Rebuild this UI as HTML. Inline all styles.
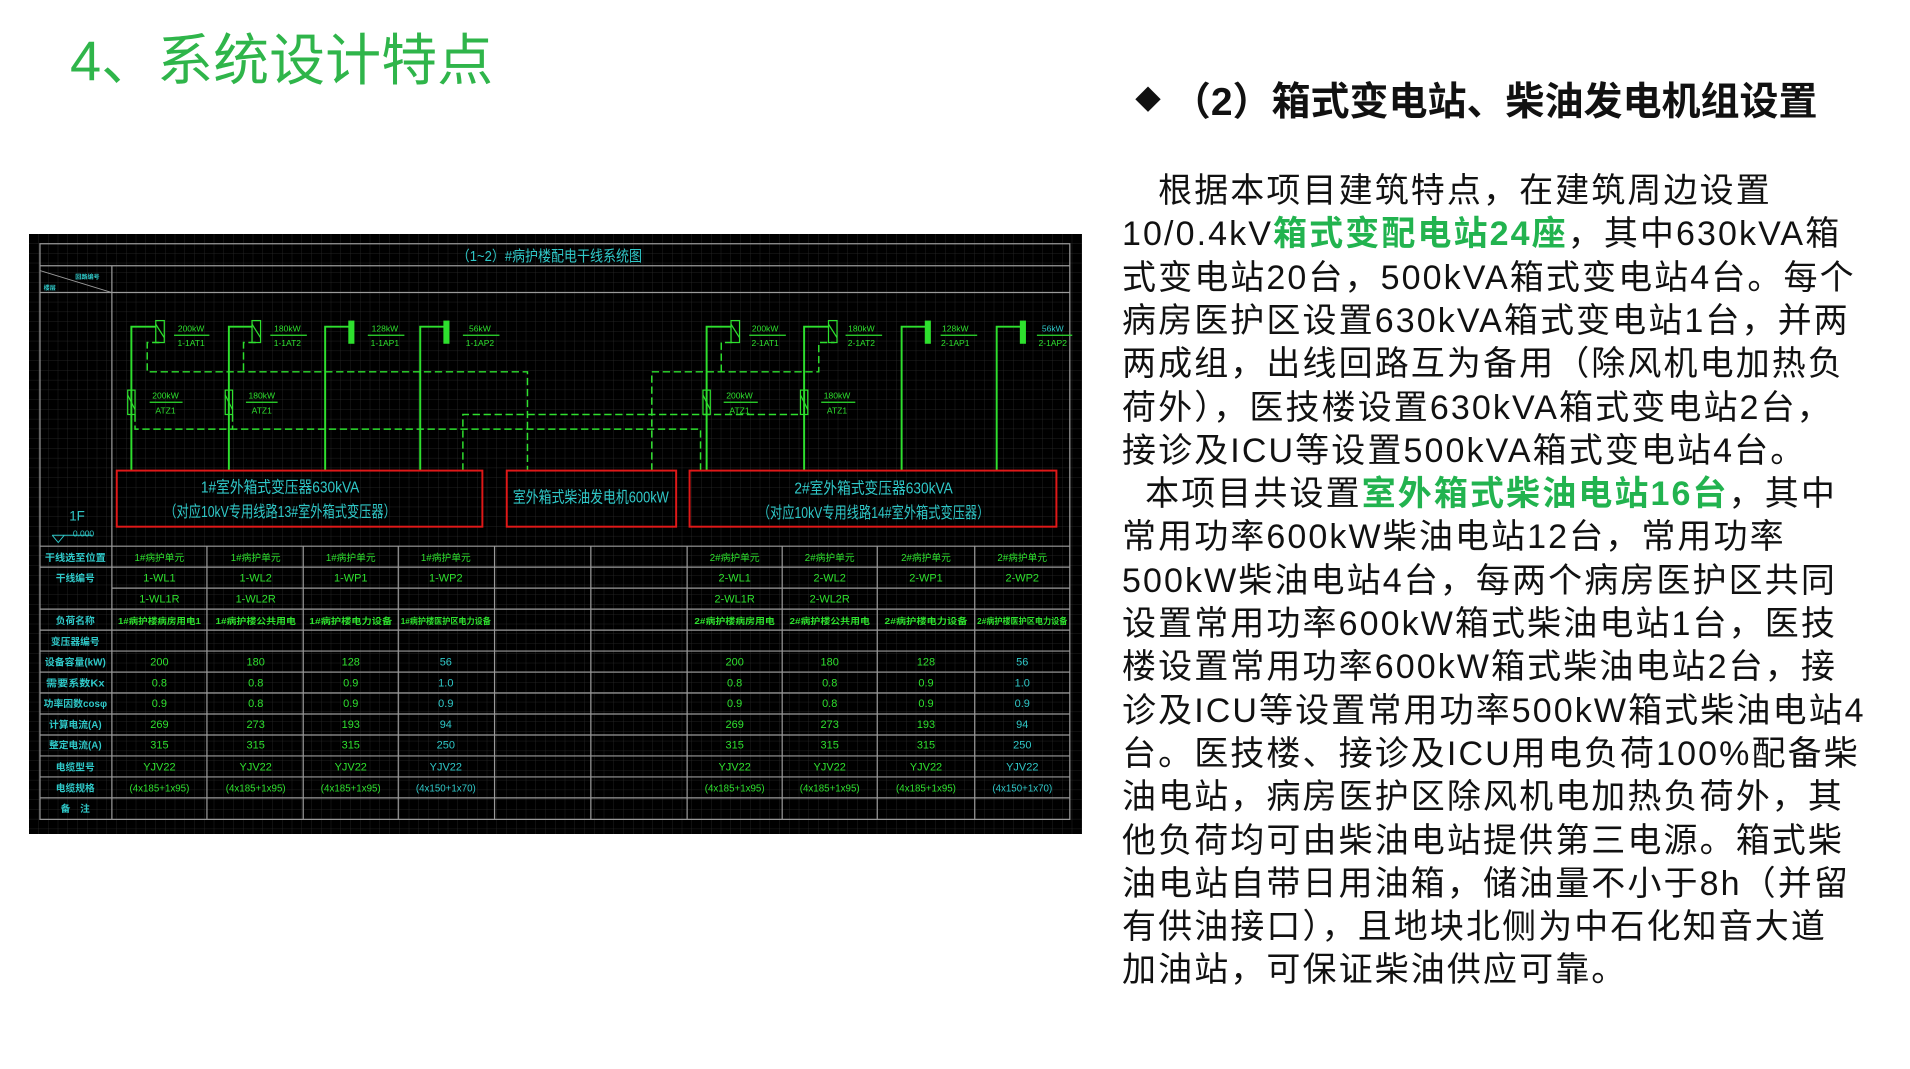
<!DOCTYPE html>
<html><head><meta charset="utf-8"><style>
body{margin:0;width:1910px;height:1069px;background:#fff;position:relative;overflow:hidden;font-family:"Liberation Sans","Noto Sans CJK SC",sans-serif}
.t{position:absolute;left:70px;top:16px;font-size:56px;color:#2fb54a;white-space:nowrap}
.h{position:absolute;left:1135px;top:71px;font-size:39px;font-weight:bold;color:#111;white-space:nowrap}
.p{position:absolute;left:1122px;font-size:34px;color:#111;white-space:nowrap;letter-spacing:2.1px;line-height:44px}
.g{color:#22b34f;font-weight:bold}
svg{position:absolute;left:29px;top:234px}
</style></head><body>
<div class="t">4、系统设计特点</div>
<div class="h"><span style="font-size:26px;vertical-align:6px">◆</span> （2）箱式变电站、柴油发电机组设置</div>
<div class="p" style="top:169px">　根据本项目建筑特点，在建筑周边设置</div>
<div class="p" style="top:212px">10/0.4kV<span class="g">箱式变配电站24座</span>，其中630kVA箱</div>
<div class="p" style="top:256px">式变电站20台，500kVA箱式变电站4台。每个</div>
<div class="p" style="top:299px">病房医护区设置630kVA箱式变电站1台，并两</div>
<div class="p" style="top:342px">两成组，出线回路互为备用（除风机电加热负</div>
<div class="p" style="top:386px">荷外），医技楼设置630kVA箱式变电站2台，</div>
<div class="p" style="top:429px">接诊及ICU等设置500kVA箱式变电站4台。</div>
<div class="p" style="top:472px">&nbsp;&nbsp;本项目共设置<span class="g">室外箱式柴油电站16台</span>，其中</div>
<div class="p" style="top:515px">常用功率600kW柴油电站12台，常用功率</div>
<div class="p" style="top:559px">500kW柴油电站4台，每两个病房医护区共同</div>
<div class="p" style="top:602px">设置常用功率600kW箱式柴油电站1台，医技</div>
<div class="p" style="top:645px">楼设置常用功率600kW箱式柴油电站2台，接</div>
<div class="p" style="top:689px">诊及ICU等设置常用功率500kW箱式柴油电站4</div>
<div class="p" style="top:732px">台。医技楼、接诊及ICU用电负荷100%配备柴</div>
<div class="p" style="top:775px">油电站，病房医护区除风机电加热负荷外，其</div>
<div class="p" style="top:819px">他负荷均可由柴油电站提供第三电源。箱式柴</div>
<div class="p" style="top:862px">油电站自带日用油箱，储油量不小于8h（并留</div>
<div class="p" style="top:905px">有供油接口），且地块北侧为中石化知音大道</div>
<div class="p" style="top:948px">加油站，可保证柴油供应可靠。</div>

<svg width="1053" height="600" viewBox="24 192 864 492" preserveAspectRatio="none" font-family="Liberation Sans,Noto Sans CJK SC,sans-serif">
<defs><pattern id="gr" width="8" height="8" patternUnits="userSpaceOnUse"><path d="M8 0V8H0" fill="none" stroke="#2b2b2b" stroke-width="0.6"/></pattern></defs>
<rect x="24" y="192" width="864" height="492" fill="#000"/>
<rect x="24" y="192" width="864" height="492" fill="url(#gr)"/>
<g stroke="#9a9a9a" stroke-width="1" fill="none">
<rect x="33" y="200" width="845" height="472"/>
<line x1="33" y1="218" x2="878" y2="218"/><line x1="33" y1="240" x2="878" y2="240"/>
<line x1="92" y1="218" x2="92" y2="672"/>
<line x1="33" y1="222" x2="92" y2="240" stroke-width="0.7"/>
<line x1="33" y1="448" x2="878" y2="448"/><line x1="33" y1="465.2" x2="878" y2="465.2"/>
<line x1="92" y1="482.4" x2="878" y2="482.4"/><line x1="33" y1="499.6" x2="878" y2="499.6"/>
<line x1="33" y1="516.8" x2="878" y2="516.8"/><line x1="33" y1="534" x2="878" y2="534"/>
<line x1="33" y1="551.2" x2="878" y2="551.2"/><line x1="33" y1="568.4" x2="878" y2="568.4"/>
<line x1="33" y1="585.6" x2="878" y2="585.6"/><line x1="33" y1="602.8" x2="878" y2="602.8"/>
<line x1="33" y1="620" x2="878" y2="620"/><line x1="33" y1="637.2" x2="878" y2="637.2"/>
<line x1="33" y1="654.4" x2="878" y2="654.4"/>
<line x1="170" y1="448" x2="170" y2="672"/><line x1="249" y1="448" x2="249" y2="672"/>
<line x1="327" y1="448" x2="327" y2="672"/><line x1="406" y1="448" x2="406" y2="672"/>
<line x1="485" y1="448" x2="485" y2="672"/><line x1="564" y1="448" x2="564" y2="672"/>
<line x1="642" y1="448" x2="642" y2="672"/><line x1="720" y1="448" x2="720" y2="672"/>
<line x1="800" y1="448" x2="800" y2="672"/>
</g>
<text x="451" y="214" fill="#2fc8c8" font-size="12" text-anchor="middle" textLength="152" lengthAdjust="spacingAndGlyphs">（1~2）#病护楼配电干线系统图</text>
<text x="62" y="229" fill="#2fc8c8" font-size="5" font-weight="bold">回路编号</text>
<text x="36" y="238" fill="#2fc8c8" font-size="5" font-weight="bold">楼层</text>
<text x="57" y="427" fill="#2fc8c8" font-size="11">1F</text>
<text x="60" y="440" fill="#2fc8c8" font-size="7">0.000</text>
<path d="M43 439H76M43 439L48 445L53 439" stroke="#2fc8c8" fill="none" stroke-width="0.8"/>
<g stroke="#2ee02e" stroke-width="1.6" fill="none">
<path d="M108 386V268H128"/><path d="M188 386V268H207"/><path d="M267 386V268H287"/><path d="M345 386V268H365"/>
<path d="M580 386V268H600"/><path d="M660 386V268H680"/><path d="M740 386V268H760"/><path d="M818 386V268H838"/>
</g>
<g stroke="#2ee02e" stroke-width="1" fill="none">
<rect x="128" y="263" width="7" height="18"/><path d="M128 266L135 277"/>
<rect x="207" y="263" width="7" height="18"/><path d="M207 266L214 277"/>
<rect x="600" y="263" width="7" height="18"/><path d="M600 266L607 277"/>
<rect x="680" y="263" width="7" height="18"/><path d="M680 266L687 277"/>
<rect x="105" y="320" width="6" height="20"/><path d="M105 324L111 336"/>
<rect x="185" y="320" width="6" height="20"/><path d="M185 324L191 336"/>
<rect x="577" y="320" width="6" height="20"/><path d="M577 324L583 336"/>
<rect x="657" y="320" width="6" height="20"/><path d="M657 324L663 336"/>
<path d="M143 275H172M222 275H252M302 275H332M380 275H410M615 275H645M694 275H724M772 275H802M851 275H880"/>
<path d="M123 330H150M202 330H228M594 330H622M674 330H702"/>
</g>
<g fill="#2ee02e"><rect x="286" y="263" width="5" height="19"/><rect x="364" y="263" width="5" height="19"/><rect x="759" y="263" width="5" height="19"/><rect x="837" y="263" width="5" height="19"/></g>
<g stroke="#2ee02e" stroke-width="1.2" fill="none" stroke-dasharray="6,3">
<path d="M131 281H121V305H433V386"/><path d="M210 281H200V305"/>
<path d="M111 340V352H575V386"/><path d="M191 340V352"/>
<path d="M380 386V340H655V340"/>
<path d="M535 386V305H672V281H685"/><path d="M592 305V281H603"/>
</g>
<g fill="#2ee02e" font-size="7" text-anchor="middle">
<text x="157" y="272">200kW</text><text x="157" y="284">1-1AT1</text>
<text x="236" y="272">180kW</text><text x="236" y="284">1-1AT2</text>
<text x="316" y="272">128kW</text><text x="316" y="284">1-1AP1</text>
<text x="394" y="272">56kW</text><text x="394" y="284">1-1AP2</text>
<text x="136" y="327">200kW</text><text x="136" y="339">ATZ1</text>
<text x="215" y="327">180kW</text><text x="215" y="339">ATZ1</text>
<text x="628" y="272">200kW</text><text x="628" y="284">2-1AT1</text>
<text x="707" y="272">180kW</text><text x="707" y="284">2-1AT2</text>
<text x="784" y="272">128kW</text><text x="784" y="284">2-1AP1</text>
<text x="864" y="272" fill="#2fc8c8">56kW</text><text x="864" y="284">2-1AP2</text>
<text x="607" y="327">200kW</text><text x="607" y="339">ATZ1</text>
<text x="687" y="327">180kW</text><text x="687" y="339">ATZ1</text>
</g>
<g stroke="#e01818" stroke-width="1.6" fill="none">
<rect x="96" y="386" width="300" height="46"/><rect x="416" y="386" width="139" height="46"/><rect x="566" y="386" width="301" height="46"/>
</g>
<g fill="#2fc8c8" font-size="13" text-anchor="middle">
<text x="230" y="404" textLength="130" lengthAdjust="spacingAndGlyphs">1#室外箱式变压器630kVA</text>
<text x="230" y="424" textLength="190" lengthAdjust="spacingAndGlyphs">（对应10kV专用线路13#室外箱式变压器）</text>
<text x="485" y="412" textLength="128" lengthAdjust="spacingAndGlyphs">室外箱式柴油发电机600kW</text>
<text x="717" y="405" textLength="130" lengthAdjust="spacingAndGlyphs">2#室外箱式变压器630kVA</text>
<text x="717" y="425" textLength="190" lengthAdjust="spacingAndGlyphs">（对应10kV专用线路14#室外箱式变压器）</text>
</g>
<g fill="#2fc8c8" font-size="8" text-anchor="middle" font-weight="bold">
<text x="62" y="460" textLength="50" lengthAdjust="spacingAndGlyphs">干线选至位置</text>
<text x="62" y="477">干线编号</text>
<text x="62" y="512">负荷名称</text>
<text x="62" y="529">变压器编号</text>
<text x="62" y="546" textLength="50" lengthAdjust="spacingAndGlyphs">设备容量(kW)</text>
<text x="62" y="563" textLength="48" lengthAdjust="spacingAndGlyphs">需要系数Kx</text>
<text x="62" y="580" textLength="52" lengthAdjust="spacingAndGlyphs">功率因数cosφ</text>
<text x="62" y="597">计算电流(A)</text>
<text x="62" y="614">整定电流(A)</text>
<text x="62" y="632">电缆型号</text>
<text x="62" y="649">电缆规格</text>
<text x="62" y="666">备　注</text>
</g>
<g fill="#2ee02e" font-size="9" text-anchor="middle">
<text x="131" y="460" font-size="8">1#病护单元</text><text x="210" y="460" font-size="8">1#病护单元</text><text x="288" y="460" font-size="8">1#病护单元</text><text x="366" y="460" font-size="8">1#病护单元</text>
<text x="603" y="460" font-size="8">2#病护单元</text><text x="681" y="460" font-size="8">2#病护单元</text><text x="760" y="460" font-size="8">2#病护单元</text><text x="839" y="460" font-size="8">2#病护单元</text>
<text x="131" y="477">1-WL1</text><text x="210" y="477">1-WL2</text><text x="288" y="477">1-WP1</text><text x="366" y="477">1-WP2</text>
<text x="603" y="477">2-WL1</text><text x="681" y="477">2-WL2</text><text x="760" y="477">2-WP1</text><text x="839" y="477">2-WP2</text>
<text x="131" y="494">1-WL1R</text><text x="210" y="494">1-WL2R</text><text x="603" y="494">2-WL1R</text><text x="681" y="494">2-WL2R</text>
<g font-size="7" font-weight="bold">
<text x="131" y="512" textLength="68" lengthAdjust="spacingAndGlyphs">1#病护楼病房用电1</text><text x="210" y="512" textLength="66" lengthAdjust="spacingAndGlyphs">1#病护楼公共用电</text><text x="288" y="512" textLength="68" lengthAdjust="spacingAndGlyphs">1#病护楼电力设备</text><text x="366" y="512" textLength="74" lengthAdjust="spacingAndGlyphs">1#病护楼医护区电力设备</text>
<text x="603" y="512" textLength="66" lengthAdjust="spacingAndGlyphs">2#病护楼病房用电</text><text x="681" y="512" textLength="66" lengthAdjust="spacingAndGlyphs">2#病护楼公共用电</text><text x="760" y="512" textLength="68" lengthAdjust="spacingAndGlyphs">2#病护楼电力设备</text><text x="839" y="512" textLength="74" lengthAdjust="spacingAndGlyphs">2#病护楼医护区电力设备</text>
</g>
<text x="131" y="546">200</text><text x="210" y="546">180</text><text x="288" y="546">128</text><text x="366" y="546" fill="#2fc8c8">56</text>
<text x="603" y="546">200</text><text x="681" y="546">180</text><text x="760" y="546">128</text><text x="839" y="546" fill="#2fc8c8">56</text>
<text x="131" y="563">0.8</text><text x="210" y="563">0.8</text><text x="288" y="563">0.9</text><text x="366" y="563" fill="#2fc8c8">1.0</text>
<text x="603" y="563">0.8</text><text x="681" y="563">0.8</text><text x="760" y="563">0.9</text><text x="839" y="563" fill="#2fc8c8">1.0</text>
<text x="131" y="580">0.9</text><text x="210" y="580">0.8</text><text x="288" y="580">0.9</text><text x="366" y="580" fill="#2fc8c8">0.9</text>
<text x="603" y="580">0.9</text><text x="681" y="580">0.8</text><text x="760" y="580">0.9</text><text x="839" y="580" fill="#2fc8c8">0.9</text>
<text x="131" y="597">269</text><text x="210" y="597">273</text><text x="288" y="597">193</text><text x="366" y="597" fill="#2fc8c8">94</text>
<text x="603" y="597">269</text><text x="681" y="597">273</text><text x="760" y="597">193</text><text x="839" y="597" fill="#2fc8c8">94</text>
<text x="131" y="614">315</text><text x="210" y="614">315</text><text x="288" y="614">315</text><text x="366" y="614" fill="#2fc8c8">250</text>
<text x="603" y="614">315</text><text x="681" y="614">315</text><text x="760" y="614">315</text><text x="839" y="614" fill="#2fc8c8">250</text>
<text x="131" y="632">YJV22</text><text x="210" y="632">YJV22</text><text x="288" y="632">YJV22</text><text x="366" y="632" fill="#2fc8c8">YJV22</text>
<text x="603" y="632">YJV22</text><text x="681" y="632">YJV22</text><text x="760" y="632">YJV22</text><text x="839" y="632" fill="#2fc8c8">YJV22</text>
<g font-size="8">
<text x="131" y="649">(4x185+1x95)</text><text x="210" y="649">(4x185+1x95)</text><text x="288" y="649">(4x185+1x95)</text><text x="366" y="649" fill="#2fc8c8">(4x150+1x70)</text>
<text x="603" y="649">(4x185+1x95)</text><text x="681" y="649">(4x185+1x95)</text><text x="760" y="649">(4x185+1x95)</text><text x="839" y="649" fill="#2fc8c8">(4x150+1x70)</text>
</g>
</g>
</svg>
</body></html>
